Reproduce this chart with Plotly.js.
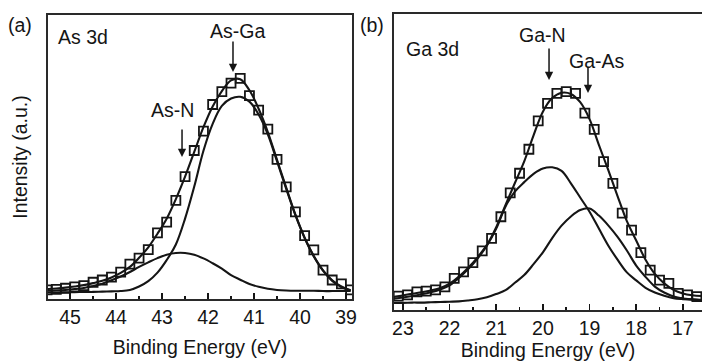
<!DOCTYPE html>
<html>
<head>
<meta charset="utf-8">
<script src="https://cdn.plot.ly/plotly-3.0.1.min.js"></script>
<style>html,body{margin:0;padding:0;background:#fff}#chart{width:702px;height:361px}</style>
</head>
<body>
<div id="chart"></div>
<script>
// ---------- Panel (a): As 3d ----------
const energyA = [45.5,45.3,45.1,44.9,44.7,44.5,44.3,44.1,43.9,43.7,43.5,43.3,43.1,42.9,42.7,42.5,42.3,42.1,41.9,41.7,41.5,41.3,41.1,40.9,40.7,40.5,40.3,40.1,39.9,39.7,39.5,39.3,39.1,38.9];
const measuredA = [3.2,3.4,3.8,4.3,4.7,5.9,6.7,7.7,9.5,12.3,14.4,17.4,23.3,27.1,34.7,43.1,52.3,59.1,68.5,73.0,76.0,77.7,71.6,66.5,59.8,49.2,39.5,30.7,22.3,17.3,10.2,6.7,5.3,3.2];
const envelopeA = [3.5,3.7,4.0,4.4,4.9,5.6,6.4,7.6,9.2,11.3,14.5,18.2,23.0,28.3,35.2,43.1,51.8,60.5,67.8,73.2,77.0,77.4,73.5,67.0,58.8,49.0,39.2,29.7,21.6,15.1,10.1,6.6,4.4,3.1];
const asGa = [2.3,2.3,2.4,2.4,2.5,2.5,2.6,2.7,2.8,3.2,4.4,6.3,9.3,13.7,19.2,28.3,39.6,52.2,61.7,68.0,70.6,71.2,69.5,65.0,58.0,48.5,38.8,29.5,21.5,15.0,10.0,6.4,4.2,3.0];
const asN = [2.9,3.0,3.2,3.5,3.9,4.6,5.4,6.6,7.9,9.5,11.3,12.9,14.4,15.6,16.2,16.2,15.6,14.3,12.6,10.7,8.4,6.8,5.3,4.3,3.6,3.2,3.0,2.9,2.9,2.9,2.8,2.8,2.8,2.8];

// ---------- Panel (b): Ga 3d ----------
const energyB = [23.2,23.0,22.8,22.6,22.4,22.2,22.0,21.8,21.6,21.4,21.2,21.0,20.8,20.6,20.4,20.2,20.0,19.8,19.6,19.4,19.2,19.0,18.8,18.6,18.4,18.2,18.0,17.8,17.6,17.4,17.2,17.0,16.8,16.6];
const envelopeB = [4.4,4.9,5.5,6.0,6.6,7.4,8.9,11.3,14.3,17.8,22.0,28.0,35.5,42.9,50.2,59.0,67.0,71.6,73.4,73.0,70.2,64.5,55.8,47.3,38.5,30.0,23.5,17.0,12.2,9.0,6.8,5.6,5.0,4.7];
const gaN = [3.8,4.2,4.7,5.3,6.0,6.9,8.3,10.8,13.8,17.4,21.7,27.5,35.0,40.0,43.2,46.0,47.8,48.2,47.0,42.8,38.0,33.2,27.5,21.8,17.0,12.7,10.0,7.5,5.9,4.8,4.0,3.7,3.5,3.4];
const gaAs = [2.4,2.4,2.5,2.5,2.6,2.7,2.8,2.9,3.2,3.6,4.3,5.4,6.7,9.2,11.8,15.5,19.5,24.3,28.5,31.6,33.8,34.3,31.9,28.6,24.7,20.1,15.0,11.2,7.9,5.9,4.6,3.9,3.6,3.4];
const measuredEnergyB = [23.1,22.9,22.7,22.5,22.3,22.1,21.9,21.7,21.5,21.3,21.1,20.9,20.7,20.5,20.3,20.1,19.9,19.7,19.5,19.3,19.1,18.9,18.7,18.5,18.3,18.1,17.9,17.7,17.5,17.3,17.1,16.9,16.7];
const measuredB = [4.7,5.1,6.1,6.4,6.8,7.8,10.7,12.9,16.0,20.0,24.2,31.5,39.6,46.2,54.3,63.9,69.8,73.2,73.8,73.2,66.5,61.0,50.1,42.8,32.7,27.0,19.4,13.5,10.1,9.0,5.6,5.1,4.5];

const ink = '#151515';
const fs = 19.5;
function line(x, y, xa, ya, name) {
  return {type:'scatter', mode:'lines', x:x, y:y, xaxis:xa, yaxis:ya, name:name,
          line:{color:ink, width:2.1, shape:'spline', smoothing:1}, hoverinfo:'skip'};
}
function pts(x, y, xa, ya, name) {
  return {type:'scatter', mode:'markers', x:x, y:y, xaxis:xa, yaxis:ya, name:name,
          marker:{symbol:'square-open', size:9, color:ink, line:{width:1.8, color:ink}}};
}

const traces = [
  line(energyA, asN, 'x', 'y', 'As-N'),
  line(energyA, asGa, 'x', 'y', 'As-Ga'),
  line(energyA, envelopeA, 'x', 'y', 'Fit'),
  pts(energyA, measuredA, 'x', 'y', 'As 3d data'),
  line(energyB, gaAs, 'x2', 'y2', 'Ga-As'),
  line(energyB, gaN, 'x2', 'y2', 'Ga-N'),
  line(energyB, envelopeB, 'x2', 'y2', 'Fit'),
  pts(measuredEnergyB, measuredB, 'x2', 'y2', 'Ga 3d data')
];

const xCommon = {
  tickmode:'linear', tick0:0, dtick:1, ticks:'inside', ticklen:6, tickwidth:1.5, tickcolor:ink,
  minor:{ticks:'inside', ticklen:3, tickwidth:1.5, tickcolor:ink, dtick:0.5},
  showline:true, linewidth:2, linecolor:'#2a2a2a', mirror:true,
  showgrid:false, zeroline:false, tickfont:{size:fs, color:ink}
};
const yCommon = {
  range:[0,100], showticklabels:false, ticks:'', showgrid:false, zeroline:false,
  showline:true, linewidth:2, linecolor:'#2a2a2a'
};

const arrow = (x, y, ay) => ({xref:'paper', yref:'paper', x:x, y:y, text:'', showarrow:true,
  ax:0, ay:ay, arrowhead:2, arrowsize:1.1, arrowwidth:1.5, arrowcolor:ink});
const label = (x, y, t) => ({xref:'paper', yref:'paper', x:x, y:y, text:t, showarrow:false,
  xanchor:'center', yanchor:'middle', font:{size:fs, color:ink}});

const layout = {
  width:702, height:361, margin:{l:0, r:0, t:0, b:0},
  paper_bgcolor:'#ffffff', plot_bgcolor:'#ffffff', showlegend:false,
  font:{family:'Liberation Sans, Arial, sans-serif', size:fs, color:ink},
  xaxis:Object.assign({}, xCommon, {domain:[0.0684, 0.5014], range:[45.48, 38.87], anchor:'y',
    title:{text:'Binding Energy (eV)', standoff:13, font:{size:fs}}}),
  yaxis:Object.assign({}, yCommon, {domain:[0.1717, 0.9584], anchor:'x', mirror:true,
    title:{text:'Intensity (a.u.)', standoff:13, font:{size:fs}}}),
  xaxis2:Object.assign({}, xCommon, {domain:[0.5613, 1.0], range:[23.19, 16.59], anchor:'y2',
    title:{text:'Binding Energy (eV)', standoff:4, font:{size:fs}}}),
  yaxis2:Object.assign({}, yCommon, {domain:[0.1413, 0.9612], anchor:'x2', mirror:false}),
  annotations:[
    label(0.0285, 0.9307, '(a)'),
    label(0.530, 0.9307, '(b)'),
    label(0.1182, 0.8975, 'As 3d'),
    label(0.6154, 0.8643, 'Ga 3d'),
    label(0.339, 0.9141, 'As-Ga'),
    label(0.2464, 0.6953, 'As-N'),
    label(0.7735, 0.903, 'Ga-N'),
    label(0.8504, 0.831, 'Ga-As'),
    arrow(0.3319, 0.8006, -32),
    arrow(0.2593, 0.5651, -29),
    arrow(0.7821, 0.7784, -33),
    arrow(0.8376, 0.7424, -28)
  ]
};

Plotly.newPlot('chart', traces, layout, {displayModeBar:false, staticPlot:true});
</script>
</body>
</html>
